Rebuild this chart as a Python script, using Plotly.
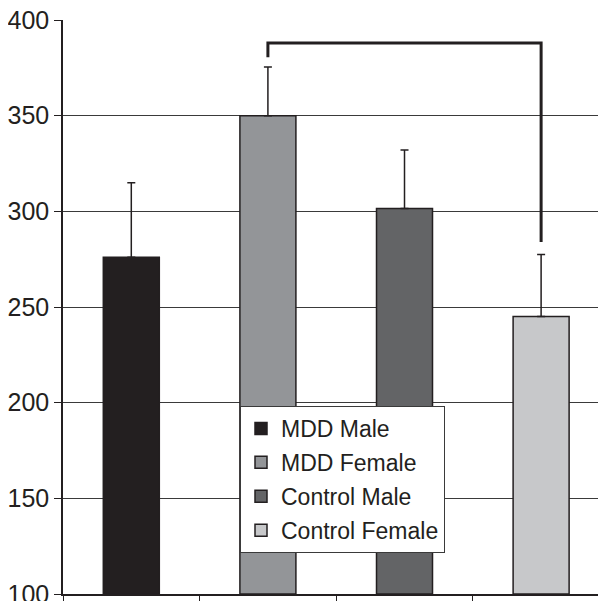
import plotly.graph_objects as go

groups = ["MDD Male", "MDD Female", "Control Male", "Control Female"]
means = [276, 350, 301.5, 245]
errors_up = [39, 25.5, 30.5, 32.5]
colors = ["#231f20", "#939598", "#636466", "#c7c8ca"]
y_ticks = [100, 150, 200, 250, 300, 350, 400]

# significance bracket between MDD Female and Control Female
bracket_x = ["MDD Female", "MDD Female", "Control Female", "Control Female"]
bracket_y = [380.5, 388, 388, 284]

ink = "#231f20"
font = "Liberation Sans, Arial, Helvetica, sans-serif"

# page body has an 8px margin; figure placed at (8, 8)
W, H = 598, 593
ML, MT, MB = 55, 12, 7
PW = W - ML
PH = H - MT - MB

fig = go.Figure()
for g, m, e, c in zip(groups, means, errors_up, colors):
    fig.add_trace(go.Bar(
        x=[g], y=[m - 100], base=100, name=g, legendgroup=g,
        marker=dict(color=c, line=dict(color=ink, width=1.5)),
        width=0.41,
        error_y=dict(type="data", symmetric=False, array=[e], arrayminus=[0],
                     color=ink, thickness=1.5, width=4),
    ))

fig.add_trace(go.Scatter(
    x=bracket_x, y=bracket_y, mode="lines", showlegend=False,
    line=dict(color=ink, width=3), hoverinfo="skip",
))

fig.update_layout(
    width=W, height=H,
    margin=dict(l=ML, r=0, t=MT, b=MB, pad=0, autoexpand=False),
    paper_bgcolor="white", plot_bgcolor="white",
    barmode="overlay",
    font=dict(family=font, color=ink, size=22),
    legend=dict(
        x=(240 - 8 - ML) / PW, y=(594 - 8 - 402 - MT + 16) / PH,
        xanchor="left", yanchor="top",
        bgcolor="white", bordercolor="#3a3a3a", borderwidth=1,
        font=dict(family=font, size=23, color=ink),
        traceorder="grouped", tracegroupgap=1, itemwidth=30,
    ),
    xaxis=dict(
        type="category", categoryorder="array", categoryarray=groups,
        range=[-0.5, 3.475], showticklabels=False, automargin=False,
        tickson="boundaries", ticks="outside", ticklen=6, tickwidth=1.2,
        tickcolor=ink, showgrid=False,
        showline=True, linecolor=ink, linewidth=1.5,
        zeroline=False, fixedrange=True,
    ),
    yaxis=dict(
        range=[100, 400], tickvals=y_ticks, automargin=False,
        ticks="outside", ticklen=7, tickwidth=1.2, tickcolor=ink,
        tickfont=dict(family=font, size=25, color=ink),
        ticklabeloverflow="allow",
        showgrid=True, gridcolor="#3a3a3a", gridwidth=1.2,
        showline=True, linecolor=ink, linewidth=1.5,
        zeroline=False, fixedrange=True,
    ),
)

fig.write_html("out.html")
